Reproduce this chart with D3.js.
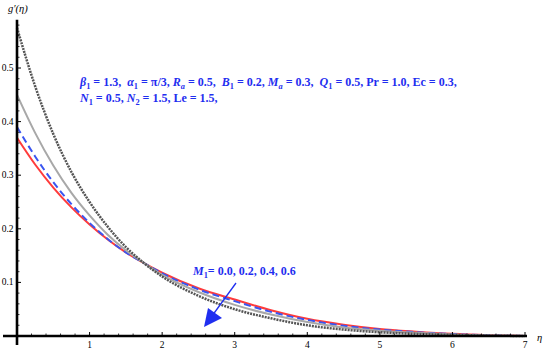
<!DOCTYPE html>
<html>
<head>
<meta charset="utf-8">
<script src="https://cdn.jsdelivr.net/npm/d3@7"></script>
<style>
  body { margin: 0; background: #fff; }
</style>
</head>
<body>
<div id="viewer"></div>
<script>
// eta grid and the four g'(eta) profiles
const eta = [0, 0.25, 0.5, 0.75, 1, 1.25, 1.5, 1.75, 2, 2.5, 3, 3.5, 4, 4.5, 5, 5.5, 6, 6.5, 7];
const m1Values = ["0.0", "0.2", "0.4", "0.6"];
const gM00 = [0.370, 0.320, 0.277, 0.240, 0.208, 0.180, 0.156, 0.136, 0.118, 0.089, 0.068, 0.048, 0.032, 0.021, 0.013, 0.008, 0.004, 0.0015, 0];
const gM02 = [0.390, 0.335, 0.287, 0.246, 0.211, 0.181, 0.156, 0.136, 0.117, 0.087, 0.065, 0.045, 0.030, 0.019, 0.012, 0.007, 0.0035, 0.0013, 0];
const gM04 = [0.450, 0.379, 0.318, 0.267, 0.225, 0.189, 0.160, 0.136, 0.114, 0.082, 0.058, 0.040, 0.026, 0.016, 0.010, 0.006, 0.003, 0.001, 0];
const gM06 = [0.575, 0.466, 0.377, 0.306, 0.250, 0.204, 0.166, 0.136, 0.111, 0.075, 0.050, 0.033, 0.020, 0.012, 0.007, 0.004, 0.002, 0.0007, 0];
const xTicks = [1, 2, 3, 4, 5, 6, 7];
const yTicks = [0.1, 0.2, 0.3, 0.4, 0.5];

const width = 550, height = 354;
const serif = "'Liberation Serif', 'Times New Roman', 'DejaVu Serif', serif";

const svg = d3.select("#viewer")
    .append("svg")
    .attr("width", width)
    .attr("height", height)
    .attr("font-family", serif);

const xScale = d3.scaleLinear().domain([0, 7]).range([17, 525]);
const yScale = d3.scaleLinear().domain([0, 0.5]).range([336, 68]);

// curves
const series = [
    { vals: gM00, color: "#ff3b3b", width: 2, dash: null },
    { vals: gM02, color: "#3a55f0", width: 2, dash: "7,4" },
    { vals: gM04, color: "#a8a8a8", width: 2, dash: null },
    { vals: gM06, color: "#555555", width: 2.5, dash: "2,1" }
];

const line = d3.line()
    .x((d, i) => xScale(eta[i]))
    .y(d => yScale(d))
    .curve(d3.curveMonotoneX);

svg.selectAll("path.curve")
    .data(series)
    .enter()
    .append("path")
    .attr("class", "curve")
    .attr("d", d => line(d.vals))
    .attr("fill", "none")
    .attr("stroke", d => d.color)
    .attr("stroke-width", d => d.width)
    .attr("stroke-dasharray", d => d.dash);

// axes (Mathematica style: thick lines, small inward ticks)
const x0 = xScale(0), y0 = yScale(0);
svg.append("line")
    .attr("x1", 3).attr("x2", 527)
    .attr("y1", y0).attr("y2", y0)
    .attr("stroke", "#000").attr("stroke-width", 2.6);
svg.append("line")
    .attr("x1", x0).attr("x2", x0)
    .attr("y1", yScale(0.59)).attr("y2", 345)
    .attr("stroke", "#000").attr("stroke-width", 2.6);

const xMinor = d3.range(0.2, 7.01, 0.2).filter(v => Math.abs(v - Math.round(v)) > 0.01);
svg.selectAll("line.xminor")
    .data(xMinor).enter().append("line")
    .attr("x1", d => xScale(d)).attr("x2", d => xScale(d))
    .attr("y1", y0 - 2.5).attr("y2", y0)
    .attr("stroke", "#000").attr("stroke-width", 0.8);
svg.selectAll("line.xmajor")
    .data(xTicks).enter().append("line")
    .attr("x1", d => xScale(d)).attr("x2", d => xScale(d))
    .attr("y1", y0 - 4).attr("y2", y0)
    .attr("stroke", "#000").attr("stroke-width", 1);
svg.selectAll("text.xlab")
    .data(xTicks).enter().append("text")
    .attr("x", d => xScale(d))
    .attr("y", 348)
    .attr("text-anchor", "middle")
    .style("font-size", "9.5px")
    .text(d => d);

const yMinor = d3.range(0.02, 0.581, 0.02).filter(v => Math.abs(v * 10 - Math.round(v * 10)) > 0.01);
svg.selectAll("line.yminor")
    .data(yMinor).enter().append("line")
    .attr("x1", x0).attr("x2", x0 + 2.5)
    .attr("y1", d => yScale(d)).attr("y2", d => yScale(d))
    .attr("stroke", "#000").attr("stroke-width", 0.8);
svg.selectAll("line.ymajor")
    .data(yTicks).enter().append("line")
    .attr("x1", x0).attr("x2", x0 + 4)
    .attr("y1", d => yScale(d)).attr("y2", d => yScale(d))
    .attr("stroke", "#000").attr("stroke-width", 1);
svg.selectAll("text.ylab")
    .data(yTicks).enter().append("text")
    .attr("x", 13.5)
    .attr("y", d => yScale(d) + 3)
    .attr("text-anchor", "end")
    .style("font-size", "9.5px")
    .text(d => d.toFixed(1));

// axis labels
svg.append("text").attr("x", 8).attr("y", 12)
    .style("font-size", "10.5px").style("font-style", "italic")
    .text("g′(η)");
svg.append("text").attr("x", 537).attr("y", 341)
    .style("font-size", "10.5px").style("font-style", "italic")
    .text("η");

// parameter annotation
const blue = "#1f2ef0";
function richText(x, y, parts, size) {
    const t = svg.append("text").attr("x", x).attr("y", y)
        .style("font-size", size + "px").style("font-weight", "bold")
        .attr("fill", blue).attr("xml:space", "preserve");
    parts.forEach(p => {
        const s = t.append("tspan").text(p[0]);
        if (p[1] === "i") s.style("font-style", "italic");
        if (p[1] === "sub") {
            s.style("font-size", (size * 0.7) + "px").attr("dy", 2.5);
            if (/[a-z]/.test(p[0])) s.style("font-style", "italic");
        }
        if (p[2] === "up") s.attr("dy", -2.5);
    });
    return t;
}
function sub(parts, name, idx, rest) {
    parts.push([name, "i"]);
    parts.push([idx, "sub"]);
    parts.push([rest, null, "up"]);
}
const line1 = [];
sub(line1, "β", "1", " = 1.3,  ");
sub(line1, "α", "1", " = π/3, ");
sub(line1, "R", "a", " = 0.5,  ");
sub(line1, "B", "1", " = 0.2, ");
sub(line1, "M", "a", " = 0.3,  ");
sub(line1, "Q", "1", " = 0.5, Pr = 1.0, Ec = 0.3,");
richText(80, 86, line1, 12);

const line2 = [];
sub(line2, "N", "1", " = 0.5, ");
sub(line2, "N", "2", " = 1.5, Le = 1.5,");
richText(80, 102, line2, 12);

const line3 = [];
sub(line3, "M", "1", "= " + m1Values.join(", "));
richText(193, 275, line3, 12);

// arrow
svg.append("line")
    .attr("x1", 236).attr("y1", 283)
    .attr("x2", 212).attr("y2", 316)
    .attr("stroke", blue).attr("stroke-width", 1.3);
svg.append("path")
    .attr("d", "M204,327 L208,308 L222,318 Z")
    .attr("fill", blue);
</script>
</body>
</html>
